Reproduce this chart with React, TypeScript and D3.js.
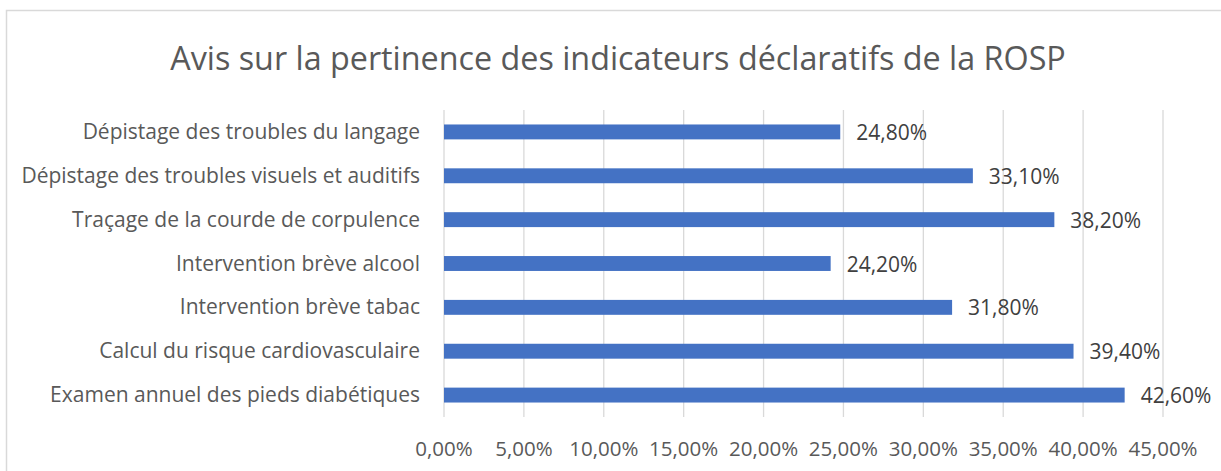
import { useEffect, useRef } from "react";
import * as d3 from "d3";

const categories = [
  "Dépistage des troubles du langage",
  "Dépistage des troubles visuels et auditifs",
  "Traçage de la courde de corpulence",
  "Intervention brève alcool",
  "Intervention brève tabac",
  "Calcul du risque cardiovasculaire",
  "Examen annuel des pieds diabétiques",
];
const values = [24.8, 33.1, 38.2, 24.2, 31.8, 39.4, 42.6];
const ticks = [0, 5, 10, 15, 20, 25, 30, 35, 40, 45];

const W = 1221;
const H = 471;
const font = "'Open Sans', 'Noto Sans', sans-serif";
const fmt = (v: number) => v.toFixed(2).replace(".", ",") + "%";

export default function App() {
  const ref = useRef<SVGSVGElement>(null);

  useEffect(() => {
    const svg = d3.select(ref.current);
    svg.selectAll("*").remove();

    const x = d3.scaleLinear().domain([0, 45]).range([444, 1163]);
    const y = d3.scaleBand().domain(categories).range([110, 417]).paddingInner(0.66).paddingOuter(0.33);

    svg.append("rect").attr("width", W).attr("height", H).attr("fill", "#fff");
    svg.append("rect")
      .attr("x", 6.5).attr("y", 10.5).attr("width", W + 20).attr("height", H + 20)
      .attr("fill", "none").attr("stroke", "#d9d9d9").attr("stroke-width", 1.5);

    svg.append("text")
      .attr("x", 618).attr("y", 70)
      .attr("text-anchor", "middle")
      .attr("font-family", font).attr("font-size", 32.3)
      .attr("fill", "#595959")
      .text("Avis sur la pertinence des indicateurs déclaratifs de la ROSP");

    // vertical gridlines
    svg.append("g").selectAll("line").data(ticks).join("line")
      .attr("x1", d => x(d)).attr("x2", d => x(d))
      .attr("y1", 110).attr("y2", 417)
      .attr("stroke", "#d9d9d9").attr("stroke-width", 1.3);

    svg.append("g").selectAll("text").data(ticks).join("text")
      .attr("x", d => x(d)).attr("y", 456)
      .attr("text-anchor", "middle")
      .attr("font-family", font).attr("font-size", 20.5)
      .attr("fill", "#595959")
      .text(d => fmt(d));

    svg.append("g").selectAll("rect").data(values).join("rect")
      .attr("x", x(0))
      .attr("y", (_, i) => y(categories[i])!)
      .attr("width", d => x(d) - x(0))
      .attr("height", y.bandwidth())
      .attr("fill", "#4472c4");

    svg.append("g").selectAll("text").data(values).join("text")
      .attr("x", d => x(d) + 16)
      .attr("y", (_, i) => y(categories[i])! + y.bandwidth() / 2 + 8)
      .attr("font-family", font).attr("font-size", 21)
      .attr("fill", "#404040")
      .text(d => fmt(d));

    svg.append("g").selectAll("text").data(categories).join("text")
      .attr("x", 420)
      .attr("y", d => y(d)! + y.bandwidth() / 2 + 7)
      .attr("text-anchor", "end")
      .attr("font-family", font).attr("font-size", 21)
      .attr("fill", "#595959")
      .text(d => d);
  }, []);

  return (
    <div style={{ position: "fixed", left: 0, top: 0 }}>
      <svg ref={ref} width={W} height={H} style={{ display: "block" }} />
    </div>
  );
}
